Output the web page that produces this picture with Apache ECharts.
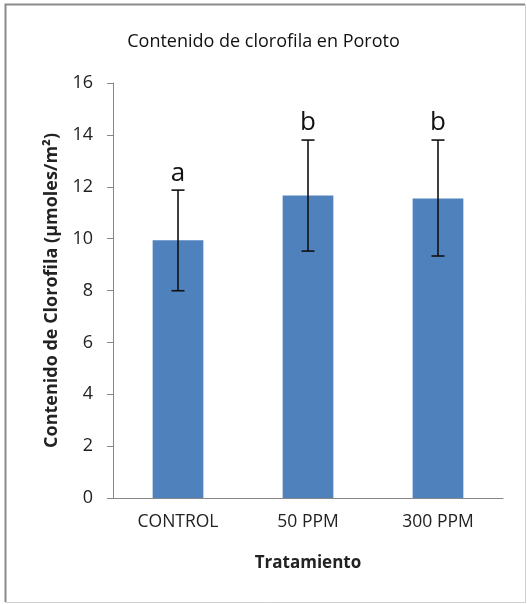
<!DOCTYPE html>
<html>
<head>
<meta charset="utf-8">
<script src="https://cdn.jsdelivr.net/npm/echarts@6/dist/echarts.min.js"></script>
<style>
html,body{margin:0;padding:0;background:#fff;}
#c{width:527px;height:604px;}
</style>
</head>
<body>
<div id="c"></div>
<script>
const categories = ['CONTROL', '50 PPM', '300 PPM'];
const means = [9.94, 11.66, 11.55];
const errLow = [7.99, 9.52, 9.33];
const errHigh = [11.87, 13.8, 13.8];
const letters = ['a', 'b', 'b'];
const yTicks = {min: 0, max: 16, interval: 2};

const FONT = '"Open Sans", sans-serif';
const chart = echarts.init(document.getElementById('c'), null, {renderer: 'canvas'});

const errData = categories.map((c, i) => [i, errLow[i], errHigh[i]]);
const letterData = categories.map((c, i) => [i, errHigh[i], letters[i]]);

chart.setOption({
  animation: false,
  backgroundColor: '#fff',
  graphic: [
    {type: 'rect', shape: {x: 5.5, y: 4.5, width: 520, height: 598}, style: {fill: 'none', stroke: '#d0d0d0', lineWidth: 1}, z: -1},
    {type: 'polyline', shape: {points: [[5.5, 602], [5.5, 4.5], [525, 4.5]]}, style: {fill: 'none', stroke: '#8a8a8a', lineWidth: 2}, z: -1}
  ],
  title: {
    text: 'Contenido de clorofila en Poroto',
    left: 'center',
    top: 28,
    textStyle: {fontFamily: FONT, fontSize: 18, fontWeight: 500, color: '#111'}
  },
  grid: {left: 113, right: 24, top: 83, bottom: 106, containLabel: false},
  xAxis: {
    type: 'category',
    data: categories,
    axisLine: {lineStyle: {color: '#868686', width: 1}},
    axisTick: {show: false},
    axisLabel: {fontFamily: FONT, fontSize: 17.5, color: '#222', margin: 15},
    name: 'Tratamiento',
    nameLocation: 'middle',
    nameGap: 57,
    nameTextStyle: {fontFamily: FONT, fontSize: 17, fontWeight: 'bold', color: '#222'}
  },
  yAxis: {
    type: 'value',
    min: yTicks.min, max: yTicks.max, interval: yTicks.interval,
    axisLine: {show: true, lineStyle: {color: '#868686', width: 1}},
    axisTick: {show: true, length: 6, lineStyle: {color: '#868686'}},
    splitLine: {show: false},
    axisLabel: {fontFamily: FONT, fontSize: 18, color: '#222', margin: 20},
    name: 'Contenido de Clorofila (µmoles/m²)',
    nameLocation: 'middle',
    nameGap: 52,
    nameTextStyle: {fontFamily: FONT, fontSize: 18, fontWeight: 'bold', color: '#222'}
  },
  series: [
    {
      type: 'bar',
      data: means,
      barWidth: '39%',
      itemStyle: {color: '#4f81bd'},
      z: 2
    },
    {
      type: 'custom',
      data: errData,
      z: 3,
      renderItem: function (params, api) {
        const x = api.value(0);
        const lo = api.coord([x, api.value(1)]);
        const hi = api.coord([x, api.value(2)]);
        const hw = 6.5;
        const st = {stroke: '#111', lineWidth: 1.6, fill: 'none'};
        return {
          type: 'group',
          children: [
            {type: 'line', shape: {x1: hi[0], y1: hi[1], x2: lo[0], y2: lo[1]}, style: st},
            {type: 'line', shape: {x1: hi[0] - hw, y1: hi[1], x2: hi[0] + hw, y2: hi[1]}, style: st},
            {type: 'line', shape: {x1: lo[0] - hw, y1: lo[1], x2: lo[0] + hw, y2: lo[1]}, style: st}
          ]
        };
      }
    },
    {
      type: 'custom',
      data: letterData,
      z: 4,
      renderItem: function (params, api) {
        const p = api.coord([api.value(0), api.value(1)]);
        return {
          type: 'text',
          x: p[0], y: p[1] - 4,
          style: {
            text: letterData[params.dataIndex][2],
            fontFamily: FONT, fontSize: 26, fill: '#111',
            align: 'center', verticalAlign: 'bottom'
          }
        };
      }
    }
  ]
});
</script>
</body>
</html>
